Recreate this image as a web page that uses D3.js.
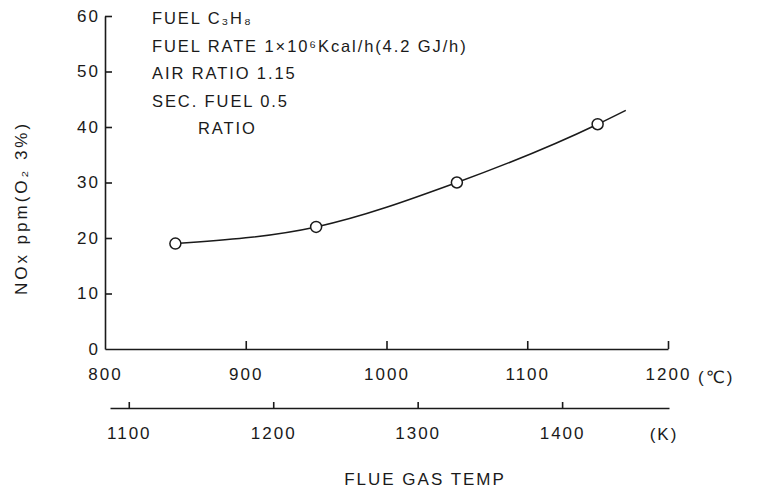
<!DOCTYPE html>
<meta charset="utf-8">
<style>
    body { margin: 0; background: #fff; }
    svg text { font-family: "Liberation Sans", "DejaVu Sans", sans-serif; fill: #1a1a1a; }
    .axis path, .axis line { stroke: #1a1a1a; stroke-width: 1.6; }
    .axis text { font-size: 17px; letter-spacing: 2px; }
</style>
<script src="https://cdn.jsdelivr.net/npm/d3@7"></script>
<body>
<script>
// measured points (flue gas temp in degC, NOx ppm at O2 3%)
var tempC = [850, 950, 1050, 1150];
var noxPpm = [19, 22, 30, 40.5];
// drawn curve runs a bit past the last point
var curveTemp = [850, 950, 1050, 1150, 1170];
var curveNox = [19, 22, 30, 40.5, 43];

var yTicks = [0, 10, 20, 30, 40, 50, 60];
var cTicks = [800, 900, 1000, 1100, 1200];
var kTicks = [1100, 1200, 1300, 1400];

var notes = ["FUEL C\u2083H\u2088", "FUEL RATE 1\u00d710\u2076Kcal/h(4.2 GJ/h)", "AIR RATIO 1.15", "SEC. FUEL 0.5", "RATIO"];

var width = 758, height = 492;
var fmt = d3.format("d");

var svg = d3.select("body").append("svg")
    .attr("width", width)
    .attr("height", height);

var x = d3.scaleLinear().domain([800, 1200]).range([105, 668]);
var y = d3.scaleLinear().domain([0, 60]).range([349, 16]);
// kelvin scale drawn as its own ruler under the main axis
var xk = d3.scaleLinear().domain([1087, 1474]).range([110, 669]);

// y axis, ticks pointing inward
var yAxis = svg.append("g")
    .attr("class", "axis")
    .attr("transform", "translate(" + x(800) + ",0)")
    .call(d3.axisLeft(y).tickValues(yTicks).tickFormat(fmt).tickSizeInner(-7).tickSizeOuter(0).tickPadding(5));
yAxis.selectAll(".tick").filter(function(d) { return d == 0; }).select("line").remove();

// x axis in degC
var xAxis = svg.append("g")
    .attr("class", "axis")
    .attr("transform", "translate(0," + y(0) + ")")
    .call(d3.axisBottom(x).tickValues(cTicks).tickFormat(fmt).tickSizeInner(-8).tickSizeOuter(0).tickPadding(19));
xAxis.selectAll(".tick").filter(function(d) { return d == 800; }).select("line").remove();

svg.append("text")
    .attr("x", 698)
    .attr("y", 383)
    .attr("font-size", 17)
    .attr("letter-spacing", "2px")
    .text("(\u2103)");

// x axis in K
var kAxis = svg.append("g")
    .attr("class", "axis")
    .attr("transform", "translate(0,408)")
    .call(d3.axisBottom(xk).tickValues(kTicks).tickFormat(fmt).tickSizeInner(-6).tickSizeOuter(0).tickPadding(19));

svg.append("text")
    .attr("x", 664)
    .attr("y", 440)
    .attr("text-anchor", "middle")
    .attr("font-size", 17)
    .attr("letter-spacing", "2px")
    .text("(K)");

svg.append("text")
    .attr("x", 425)
    .attr("y", 485)
    .attr("text-anchor", "middle")
    .attr("font-size", 17)
    .attr("letter-spacing", "2px")
    .text("FLUE GAS TEMP");

// y axis title
svg.append("text")
    .attr("transform", "translate(27,208) rotate(-90)")
    .attr("text-anchor", "middle")
    .attr("font-size", 17)
    .attr("letter-spacing", "3px")
    .text("NOx ppm(O\u2082 3%)");

// condition notes
svg.selectAll(".note")
    .data(notes)
    .enter()
    .append("text")
    .attr("class", "note")
    .attr("x", function(d, i) { return i == 4 ? 198 : 152; })
    .attr("y", function(d, i) { return 24 + i * 27.5; })
    .attr("font-size", 16.5)
    .attr("letter-spacing", "1.9px")
    .text(function(d) { return d; });

// fitted curve
var line = d3.line()
    .x(function(d, i) { return x(curveTemp[i]); })
    .y(function(d, i) { return y(curveNox[i]); })
    .curve(d3.curveMonotoneX);

svg.append("path")
    .datum(curveTemp)
    .attr("d", line)
    .attr("fill", "none")
    .attr("stroke", "#1a1a1a")
    .attr("stroke-width", 1.5);

svg.selectAll(".pt")
    .data(tempC)
    .enter()
    .append("circle")
    .attr("class", "pt")
    .attr("cx", function(d) { return x(d); })
    .attr("cy", function(d, i) { return y(noxPpm[i]); })
    .attr("r", 5.5)
    .attr("fill", "#fff")
    .attr("stroke", "#1a1a1a")
    .attr("stroke-width", 1.5);
</script>
</body>
